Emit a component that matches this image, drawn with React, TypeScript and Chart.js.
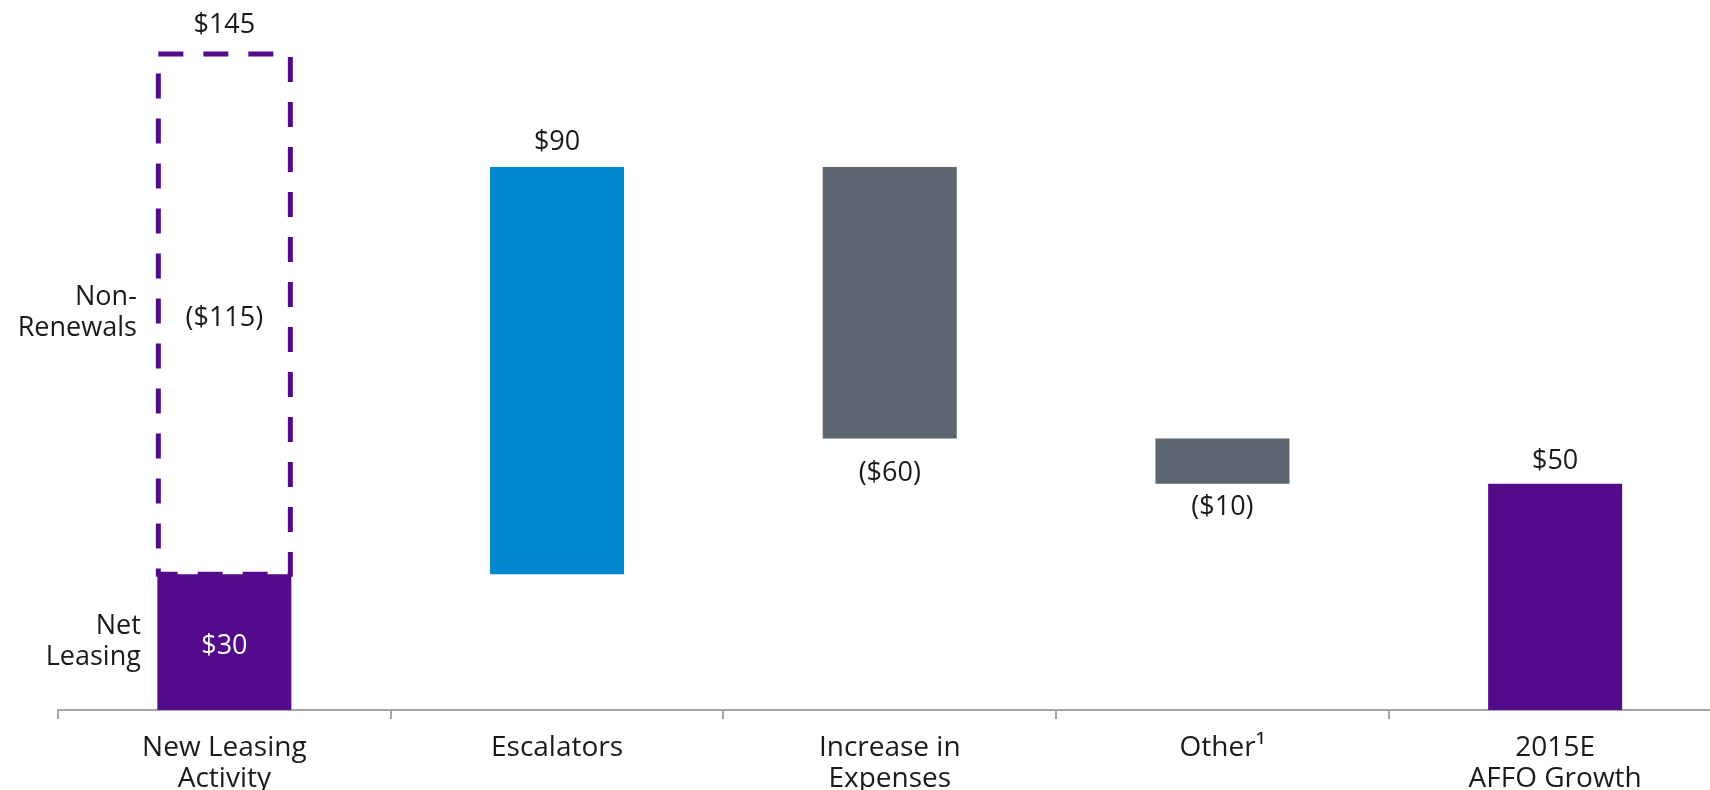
import React, { useEffect, useRef } from "react";
import { Chart, registerables } from "chart.js";

Chart.register(...registerables);

// ---------- data ----------
const categories: (string | string[])[] = [
  ["New Leasing", "Activity"],
  "Escalators",
  ["Increase in", "Expenses"],
  "Other¹",
  ["2015E", "AFFO Growth"],
];
const barStarts = [0, 30, 120, 60, 0];
const barEnds = [30, 120, 60, 50, 50];
const barLabels = ["$30", "$90", "($60)", "($10)", "$50"];
const grossLeasing = 145;
const netLeasing = 30;
const grossLabel = "$145";
const nonRenewalLabel = "($115)";
const netLeasingText = ["Net", "Leasing"];
const nonRenewalText = ["Non-", "Renewals"];

// ---------- style ----------
const PURPLE = "#530B8C";
const BLUE = "#0087CF";
const SLATE = "#5B6670";
const AXIS = "#A6A6A6";
const TEXT = "#1A1A1A";
const barColors = [PURPLE, BLUE, SLATE, SLATE, PURPLE];
const FONT = '"Open Sans", sans-serif';
const LABEL_SIZE = 27;
// placement of value labels relative to bar: anchor + pixel shift of text centre
const labelPlacement = ["inside", "above", "below", "below", "above"];
const labelShift = [2, -27, 33, 22, -24.5];
const grossShift = -30.5;
const nonRenewalShift = 2.7;

const W = 1740;
const H = 790;

function drawCentered(ctx: CanvasRenderingContext2D, text: string, x: number, cy: number, color: string, align: CanvasTextAlign = "center") {
  ctx.fillStyle = color;
  ctx.textAlign = align;
  ctx.textBaseline = "alphabetic";
  ctx.fillText(text, x, cy + LABEL_SIZE * 0.357);
}

const waterfallPlugin = {
  id: "waterfallLabels",
  afterDatasetsDraw(chart: any) {
    const ctx: CanvasRenderingContext2D = chart.ctx;
    const yScale = chart.scales.y;
    const meta0 = chart.getDatasetMeta(0);
    const meta1 = chart.getDatasetMeta(1);
    ctx.save();

    // dashed gross-leasing box
    const boxEl = meta1.data[0];
    const bx = boxEl.x;
    const bw = boxEl.width;
    const top = yScale.getPixelForValue(grossLeasing);
    const bottom = yScale.getPixelForValue(netLeasing);
    const l = bx - bw / 2 + 1;
    const r = bx + bw / 2 - 1;
    ctx.strokeStyle = PURPLE;
    ctx.lineWidth = 5;
    ctx.setLineDash([25, 20]);
    ctx.lineCap = "butt";
    ctx.beginPath();
    ctx.moveTo(l, top);
    ctx.lineTo(r, top);
    ctx.lineTo(r, bottom);
    ctx.lineTo(l, bottom);
    ctx.closePath();
    ctx.stroke();
    ctx.setLineDash([]);

    ctx.font = `${LABEL_SIZE}px ${FONT}`;

    // box labels
    drawCentered(ctx, grossLabel, bx, top + grossShift, TEXT);
    drawCentered(ctx, nonRenewalLabel, bx, (top + bottom) / 2 + nonRenewalShift, TEXT);

    // bar value labels
    meta0.data.forEach((el: any, i: number) => {
      const yTop = Math.min(el.y, el.base);
      const yBot = Math.max(el.y, el.base);
      const place = labelPlacement[i];
      let cy: number;
      let color = TEXT;
      if (place === "inside") {
        cy = (yTop + yBot) / 2 + labelShift[i];
        color = "#FFFFFF";
      } else if (place === "above") {
        cy = yTop + labelShift[i];
      } else {
        cy = yBot + labelShift[i];
      }
      drawCentered(ctx, barLabels[i], el.x, cy, color);
    });

    // side labels
    const first = meta0.data[0];
    const leftEdge = first.x - first.width / 2;
    const lineGap = 31;
    const netMid = (yScale.getPixelForValue(barStarts[0]) + yScale.getPixelForValue(barEnds[0])) / 2;
    netLeasingText.forEach((t, k) => {
      drawCentered(ctx, t, leftEdge - 16.5, netMid - 2 + (k - 0.5) * lineGap, TEXT, "right");
    });
    const nrMid = (top + bottom) / 2;
    nonRenewalText.forEach((t, k) => {
      drawCentered(ctx, t, leftEdge - 20.5, nrMid - 3 + (k - 0.5) * lineGap, TEXT, "right");
    });

    ctx.restore();
  },
};

export default function App() {
  const canvasRef = useRef<HTMLCanvasElement | null>(null);

  useEffect(() => {
    const canvas = canvasRef.current;
    if (!canvas) return;
    const floating = barStarts.map((s, i) => [s, barEnds[i]]);
    const boxData: any[] = categories.map((_, i) => (i === 0 ? [netLeasing, grossLeasing] : null));

    const chart = new Chart(canvas, {
      type: "bar",
      data: {
        labels: categories as any,
        datasets: [
          {
            data: floating as any,
            backgroundColor: barColors,
            borderWidth: 0,
            barPercentage: 0.4028,
            categoryPercentage: 1,
            grouped: false,
          } as any,
          {
            data: boxData,
            backgroundColor: "rgba(0,0,0,0)",
            borderWidth: 0,
            barPercentage: 0.4028,
            categoryPercentage: 1,
            grouped: false,
          } as any,
        ],
      },
      options: {
        responsive: false,
        animation: false,
        devicePixelRatio: 1,
        layout: { padding: { left: 58, top: 31.4, right: W - 1721.5, bottom: 0 } },
        plugins: {
          legend: { display: false },
          tooltip: { enabled: false },
        },
        scales: {
          y: {
            display: false,
            min: 0,
            max: 150,
          },
          x: {
            offset: true,
            grid: {
              display: true,
              offset: true,
              drawOnChartArea: false,
              drawTicks: true,
              tickLength: 9,
              color: AXIS,
              lineWidth: 2,
            },
            border: { display: true, color: AXIS, width: 2 },
            ticks: {
              autoSkip: false,
              maxRotation: 0,
              minRotation: 0,
              color: TEXT,
              padding: 13.5,
              font: { family: FONT, size: 28, lineHeight: 1.1 },
            },
            afterFit: (s: any) => {
              s.height = H - 710;
            },
          },
        },
      },
      plugins: [waterfallPlugin],
    });
    return () => chart.destroy();
  }, []);

  return (
    <div
      style={{
        position: "fixed",
        left: 0,
        top: 0,
        width: 1710,
        height: 790,
        overflow: "hidden",
        background: "#FFFFFF",
      }}
    >
      <canvas ref={canvasRef} width={W} height={H} style={{ width: W, height: H, display: "block" }} />
    </div>
  );
}
